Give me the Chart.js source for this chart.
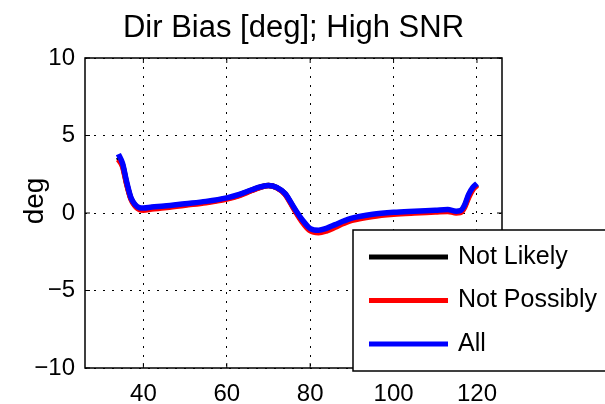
<!DOCTYPE html>
<html>
<head>
<meta charset="utf-8">
<style>
  body { margin: 0; background: #fff; }
  #wrap { width: 605px; height: 404px; }
</style>
</head>
<body>
<div id="wrap">
    <canvas id="myChart"></canvas>
</div>

<script src="https://cdn.jsdelivr.net/npm/chart.js"></script>

<script>
    const titleText = 'Dir Bias [deg]; High SNR';
    const yLabel = 'deg';

    // x positions
    const xs = [34, 35, 36, 37, 38, 39, 40, 42, 45, 50, 55, 60, 63, 66, 68, 70, 72, 74, 76, 78,
                80, 82, 84, 86, 88, 90, 95, 100, 105, 110, 113, 115, 116, 117, 118, 119, 120];

    const notLikely = [3.6, 3.1, 1.9, 0.95, 0.5, 0.28, 0.25, 0.32, 0.4, 0.55, 0.7, 0.94, 1.16, 1.48, 1.66, 1.78, 1.64, 1.22, 0.35, -0.48,
                       -1.08, -1.2, -1.06, -0.84, -0.6, -0.4, -0.15, -0.02, 0.06, 0.12, 0.16, 0.06, 0.08, 0.42, 1.1, 1.58, 1.84];
    const notPossibly = [3.45, 3.0, 1.85, 0.9, 0.45, 0.22, 0.18, 0.25, 0.33, 0.5, 0.66, 0.9, 1.12, 1.45, 1.65, 1.78, 1.62, 1.2, 0.3, -0.55,
                         -1.15, -1.28, -1.15, -0.92, -0.68, -0.48, -0.22, -0.08, 0.0, 0.06, 0.1, 0.0, 0.02, 0.35, 1.0, 1.5, 1.78];
    const allVals = [3.8, 3.2, 2.0, 1.0, 0.55, 0.35, 0.32, 0.38, 0.45, 0.6, 0.75, 0.98, 1.2, 1.5, 1.68, 1.78, 1.65, 1.25, 0.4, -0.4,
                     -1.0, -1.12, -0.98, -0.75, -0.52, -0.33, -0.08, 0.05, 0.12, 0.18, 0.22, 0.12, 0.15, 0.5, 1.2, 1.65, 1.9];

    const xTicks = [40, 60, 80, 100, 120];
    const yTicks = [-10, -5, 0, 5, 10];

    const FONT = '"Liberation Sans", Helvetica, Arial, sans-serif';

    function pts(ys) {
        return xs.map((x, i) => ({ x: x, y: ys[i] }));
    }

    // title, y label, box with inside ticks, legend
    const matlabLook = {
        id: 'matlabLook',
        afterDraw(chart) {
            const ctx = chart.ctx;
            const a = chart.chartArea;
            const sx = chart.scales.x, sy = chart.scales.y;
            ctx.save();

            ctx.fillStyle = '#000';
            ctx.font = '31px ' + FONT;
            ctx.textAlign = 'center';
            ctx.textBaseline = 'middle';
            ctx.fillText(titleText, (a.left + a.right) / 2, 28);

            ctx.save();
            ctx.translate(35, 201);
            ctx.rotate(-Math.PI / 2);
            ctx.font = '28px ' + FONT;
            ctx.fillText(yLabel, 0, 0);
            ctx.restore();

            // box + inside ticks
            ctx.strokeStyle = '#000';
            ctx.lineWidth = 1.5;
            ctx.strokeRect(a.left, a.top, a.right - a.left, a.bottom - a.top);
            ctx.lineWidth = 1;
            ctx.beginPath();
            xTicks.forEach(v => {
                const p = sx.getPixelForValue(v);
                ctx.moveTo(p, a.bottom); ctx.lineTo(p, a.bottom - 5);
                ctx.moveTo(p, a.top); ctx.lineTo(p, a.top + 5);
            });
            yTicks.forEach(v => {
                const p = sy.getPixelForValue(v);
                ctx.moveTo(a.left, p); ctx.lineTo(a.left + 5, p);
                ctx.moveTo(a.right, p); ctx.lineTo(a.right - 5, p);
            });
            ctx.stroke();

            // legend (sits over the lower right corner like matlab's)
            const lx = 353, ly = 230, lw = 270, lh = 141;
            ctx.fillStyle = '#fff';
            ctx.fillRect(lx, ly, lw, lh);
            ctx.lineWidth = 1.5;
            ctx.strokeStyle = '#000';
            ctx.strokeRect(lx, ly, lw, lh);
            const rows = [0, 1, 2].map(i => chart.data.datasets[legendOrder[i]]);
            ctx.font = '25px ' + FONT;
            ctx.textAlign = 'left';
            rows.forEach((ds, i) => {
                const y = 257 + i * 43.5;
                ctx.strokeStyle = ds.borderColor;
                ctx.lineWidth = 5;
                ctx.beginPath();
                ctx.moveTo(369, y); ctx.lineTo(448, y);
                ctx.stroke();
                ctx.fillStyle = '#000';
                ctx.fillText(ds.label, 458, y);
            });
            ctx.restore();
        }
    };

    const legendOrder = [2, 1, 0];

    const ctx = document.getElementById('myChart');
    new Chart(ctx, {
        type: 'line',
        data: {
            datasets: [
                { label: 'All', data: pts(allVals), borderColor: '#0000ff', order: 0 },
                { label: 'Not Possibly', data: pts(notPossibly), borderColor: '#ff0000', order: 1 },
                { label: 'Not Likely', data: pts(notLikely), borderColor: '#000000', order: 2 }
            ]
        },
        options: {
            responsive: true,
            maintainAspectRatio: false,
            animation: false,
            layout: { padding: { left: 0, right: 103, top: 58, bottom: 0 } },
            elements: {
                line: { borderWidth: 5.5, cubicInterpolationMode: 'monotone' },
                point: { radius: 0 }
            },
            scales: {
                x: {
                    type: 'linear',
                    min: 26,
                    max: 126,
                    afterBuildTicks: s => { s.ticks = xTicks.map(v => ({ value: v })); },
                    afterFit: s => { s.height = 36; },
                    ticks: {
                        color: '#000',
                        font: { family: FONT, size: 24 },
                        padding: 12,
                        maxRotation: 0
                    },
                    grid: { color: '#000', lineWidth: 1, drawTicks: false },
                    border: { display: false, dash: [2, 7] }
                },
                y: {
                    min: -10,
                    max: 10,
                    afterBuildTicks: s => { s.ticks = yTicks.map(v => ({ value: v })); },
                    afterFit: s => { s.width = 85; },
                    ticks: {
                        color: '#000',
                        font: { family: FONT, size: 24 },
                        padding: 10,
                        callback: v => String(v).replace('-', '\u2212')
                    },
                    grid: { color: '#000', lineWidth: 1, drawTicks: false },
                    border: { display: false, dash: [2, 7] }
                }
            },
            plugins: {
                legend: { display: false },
                title: { display: false },
                tooltip: { enabled: false }
            }
        },
        plugins: [matlabLook]
    });
</script>
</body>
</html>
